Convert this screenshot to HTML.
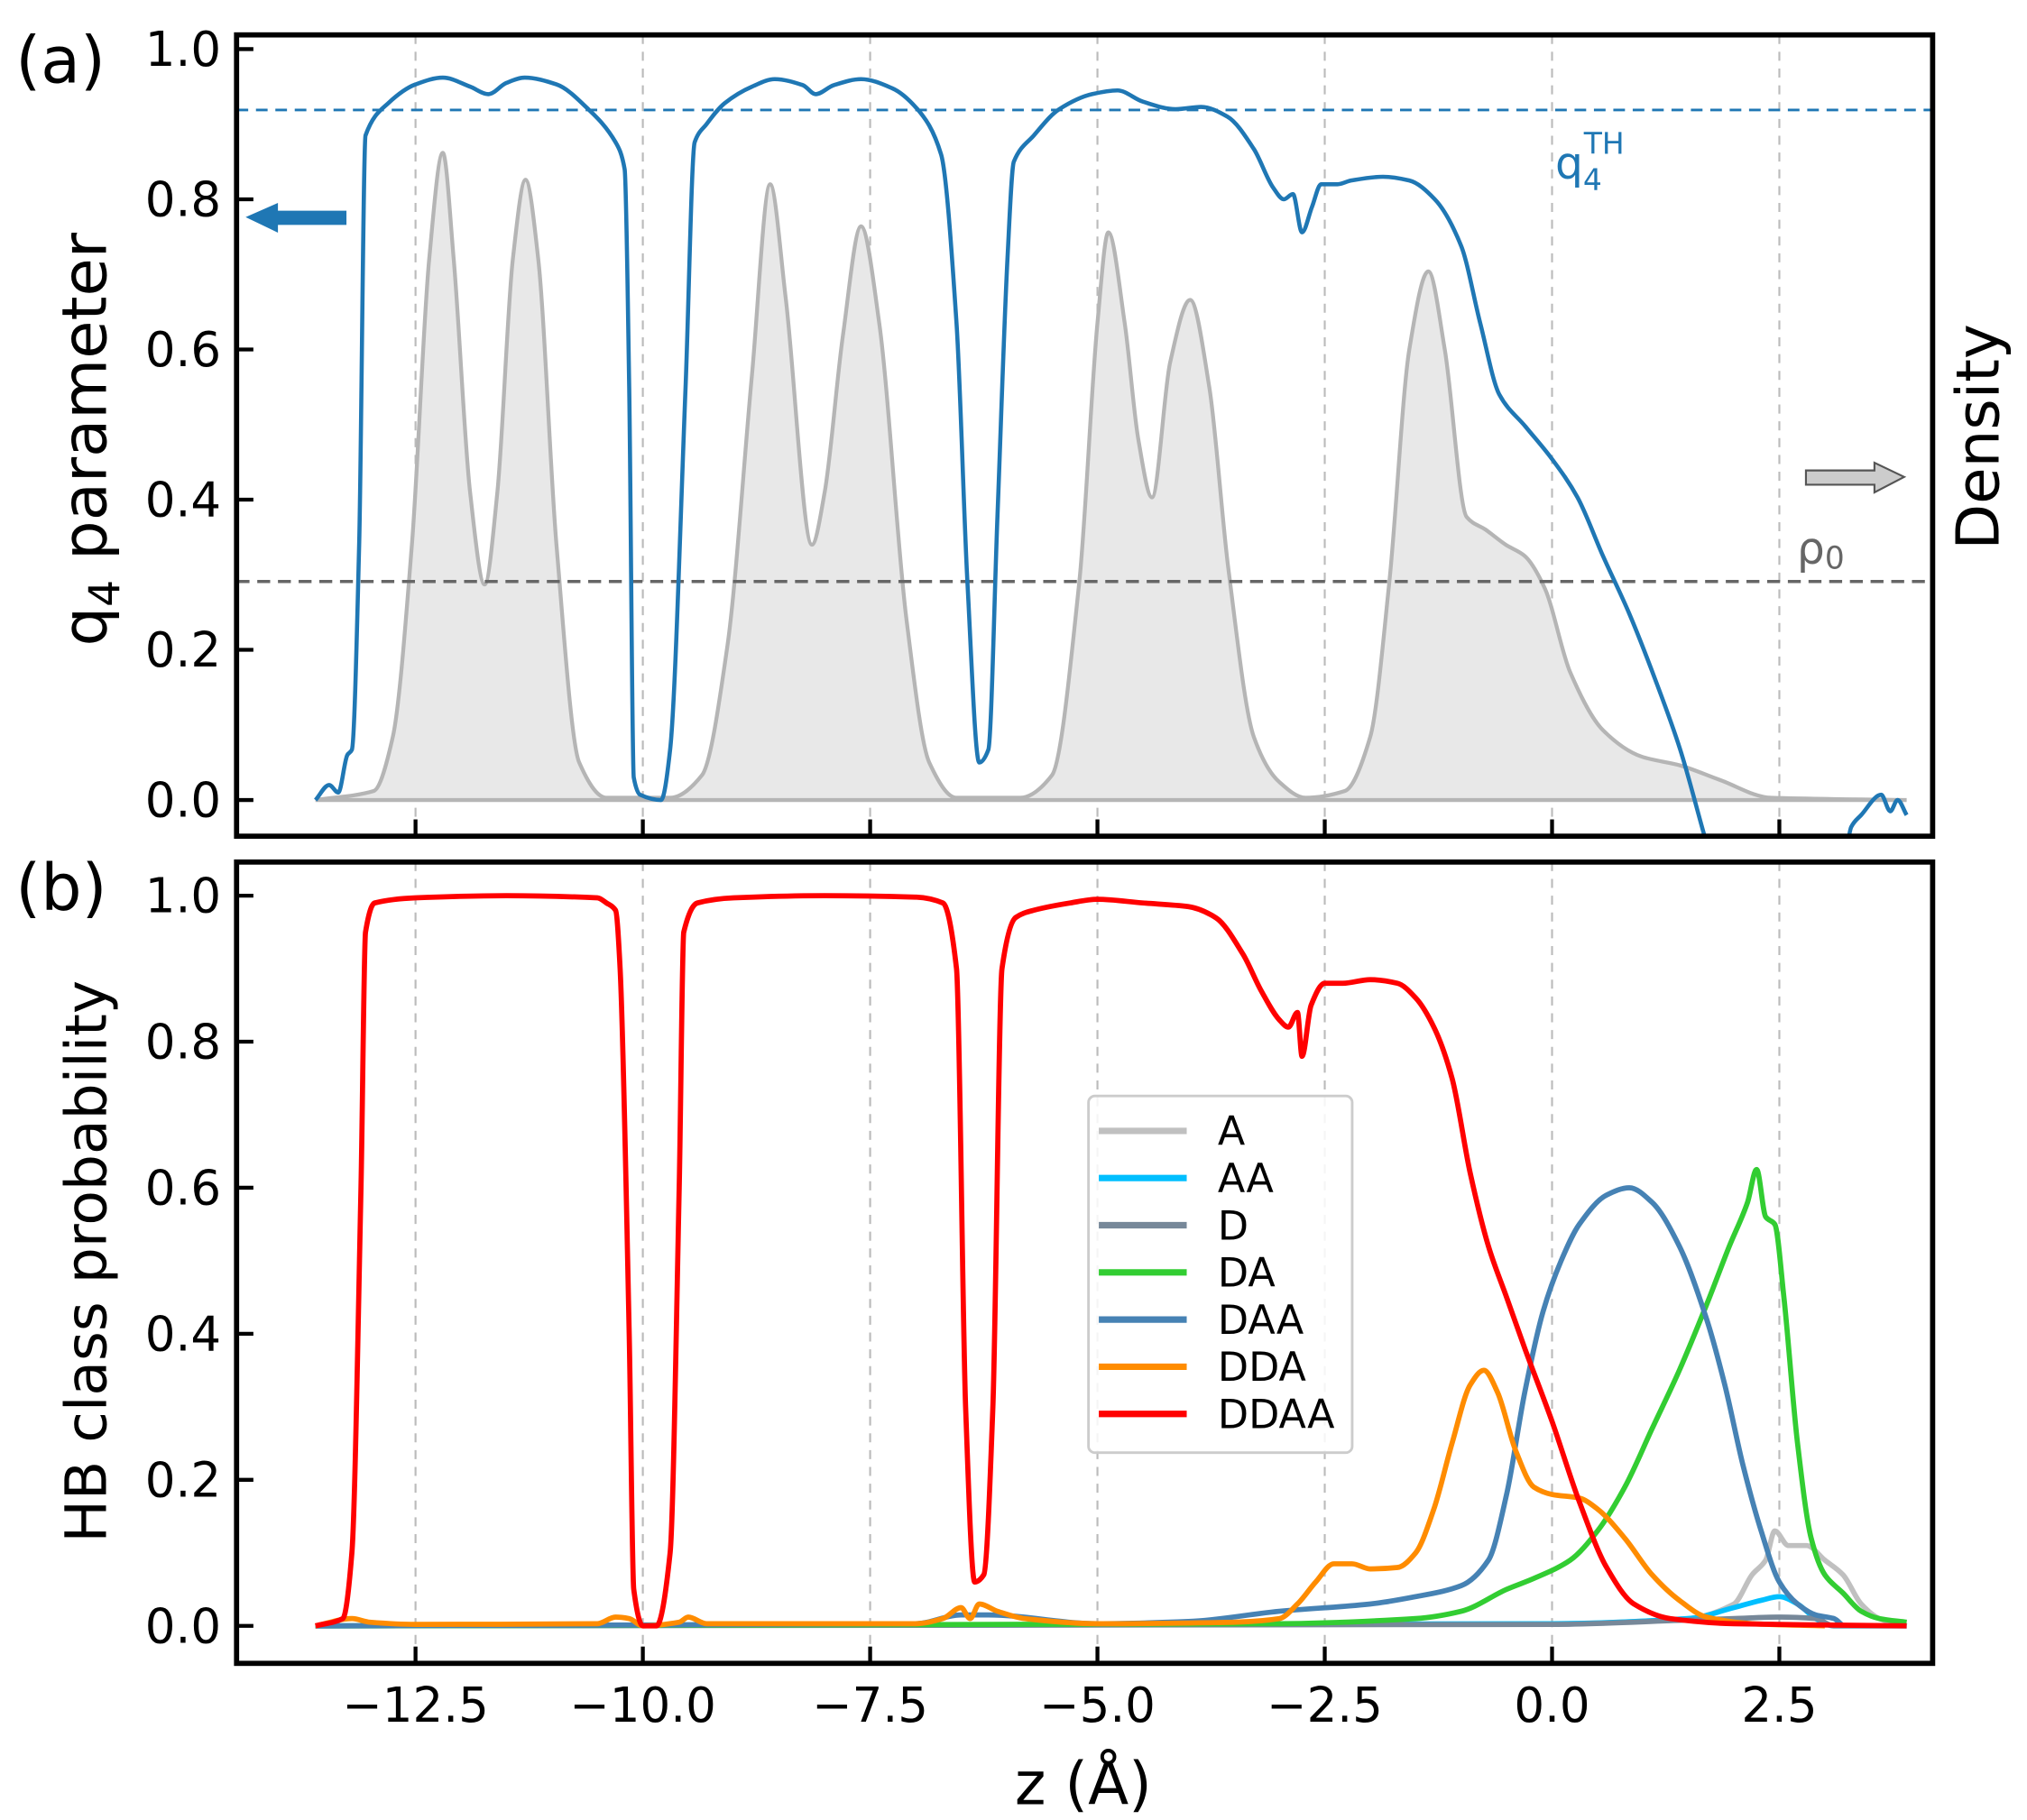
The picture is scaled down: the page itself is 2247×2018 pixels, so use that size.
<!DOCTYPE html>
<html><head><meta charset="utf-8"><style>
html,body{margin:0;padding:0;background:#fff;}
svg{display:block;font-family:"DejaVu Sans","Liberation Sans",sans-serif;}
</style></head><body>
<svg id="fig" width="2247" height="2018" viewBox="0 0 1568 1408.2" xmlns="http://www.w3.org/2000/svg">
<defs>
<clipPath id="clipA"><rect x="183" y="27" width="1312" height="620"/></clipPath>
<clipPath id="clipB"><rect x="183" y="667" width="1312" height="620"/></clipPath>
</defs>
<g id="gridA"></g>
<g id="gridB"></g>
<g id="marksA" clip-path="url(#clipA)"></g>
<g id="marksB" clip-path="url(#clipB)"></g>
<rect x="183" y="27" width="1312" height="620" fill="none" stroke="#000" stroke-width="4"/>
<rect x="183" y="667" width="1312" height="620" fill="none" stroke="#000" stroke-width="4"/>
<g id="ticks"></g>
<text x="12" y="64" font-size="50">(a)</text>
<text x="12" y="704" font-size="50">(b)</text>
<text transform="translate(82,340) rotate(-90)" text-anchor="middle" font-size="48">q<tspan font-size="33" dy="10">4</tspan><tspan dy="-10"> parameter</tspan></text>
<text transform="translate(82,976) rotate(-90)" text-anchor="middle" font-size="44">HB class probability</text>
<text transform="translate(1546,338) rotate(-90)" text-anchor="middle" font-size="46">Density</text>
<text x="838" y="1396" text-anchor="middle" font-size="46">z (Å)</text>
<text x="1203" y="138" font-size="34" fill="#1f77b4">q<tspan font-size="23" dy="9">4</tspan><tspan font-size="23" dx="-14" dy="-28">TH</tspan></text>
<text x="1390" y="436" font-size="34" fill="#666">ρ<tspan font-size="24" dy="4">0</tspan></text>
<polygon points="190,168 215,157 215,163 268,163 268,174 215,174 215,180" fill="#1f77b4"/>
<polygon points="1473,369 1450,358 1450,364 1397,364 1397,375 1450,375 1450,381" fill="#ccc" stroke="#555" stroke-width="1.5"/>
<g id="legend"></g>
</svg>
<script>
const xTicks=[-12.5,-10.0,-7.5,-5.0,-2.5,0.0,2.5];
const yTicks=[0.0,0.2,0.4,0.6,0.8,1.0];
const q4Z=[-13.6,-13.45,-13.35,-13.25,-13.2,-13.12,-13.05,-12.8,-12.5,-12.2,-11.9,-11.7,-11.5,-11.3,-10.95,-10.6,-10.3,-10.2,-10.15,-10.1,-10.03,-9.8,-9.7,-9.53,-9.43,-9.3,-9.1,-8.8,-8.55,-8.24,-8.1,-7.9,-7.6,-7.26,-6.98,-6.72,-6.55,-6.43,-6.3,-6.2,-6.1,-5.99,-5.92,-5.7,-5.42,-5.06,-4.78,-4.5,-4.14,-3.86,-3.57,-3.28,-3.07,-2.95,-2.85,-2.75,-2.64,-2.54,-2.36,-2.21,-1.86,-1.57,-1.29,-1.0,-0.79,-0.58,-0.29,0,0.28,0.56,0.85,1.13,1.41,1.67,2.5,3.2,3.29,3.4,3.62,3.72,3.8,3.9];
const q4V=[0,0.02,0.01,0.06,0.067,0.34,0.885,0.928,0.953,0.962,0.95,0.94,0.955,0.962,0.953,0.92,0.876,0.84,0.55,0.03,0.007,0,0.067,0.55,0.876,0.9,0.928,0.95,0.96,0.952,0.94,0.952,0.96,0.948,0.92,0.86,0.635,0.29,0.05,0.067,0.377,0.72,0.85,0.885,0.92,0.94,0.945,0.93,0.92,0.923,0.91,0.867,0.816,0.8,0.807,0.756,0.79,0.82,0.82,0.825,0.83,0.825,0.8,0.738,0.635,0.54,0.497,0.454,0.403,0.325,0.248,0.162,0.067,-0.045,-0.4,-0.1,-0.036,-0.02,0.007,-0.015,0,-0.02];
const densZ=[-13.6,-12.96,-12.75,-12.54,-12.35,-12.2,-12.08,-11.9,-11.74,-11.6,-11.43,-11.29,-11.15,-10.95,-10.7,-10.4,-9.7,-9.35,-9.07,-8.8,-8.6,-8.43,-8.14,-8.0,-7.8,-7.6,-7.4,-7.1,-6.85,-6.55,-5.85,-5.5,-5.2,-5.0,-4.88,-4.7,-4.55,-4.4,-4.2,-3.98,-3.77,-3.56,-3.28,-3.0,-2.71,-2.28,-2.0,-1.79,-1.57,-1.36,-1.18,-0.94,-0.73,-0.51,-0.3,-0.08,0.2,0.56,0.98,1.41,1.84,2.41,3.9];
const densV=[0,0.012,0.084,0.34,0.72,0.862,0.72,0.41,0.287,0.41,0.72,0.826,0.72,0.34,0.05,0.003,0.003,0.033,0.205,0.566,0.82,0.67,0.34,0.41,0.618,0.764,0.635,0.24,0.05,0.003,0.003,0.033,0.29,0.635,0.756,0.635,0.48,0.403,0.583,0.666,0.55,0.308,0.084,0.024,0.003,0.012,0.084,0.29,0.6,0.704,0.6,0.377,0.36,0.34,0.325,0.282,0.17,0.093,0.058,0.046,0.027,0.003,0];
const q4Threshold=0.919;
const rho0=0.291;
const classNames=["A","AA","D","DA","DAA","DDA","DDAA"];
const classColors=["#c0c0c0","#00bfff","#778899","#32cd32","#4682b4","#ff8c00","#ff0000"];
const aZ=[-13.6,0,1.5,2.0,2.2,2.35,2.45,2.6,2.8,3.0,3.2,3.4,3.6,3.9];
const aV=[0,0.003,0.01,0.03,0.07,0.09,0.13,0.11,0.11,0.09,0.07,0.03,0.01,0];
const aaZ=[-13.6,0,1.5,2.0,2.3,2.5,2.7,2.9,3.1,3.9];
const aaV=[0,0.003,0.01,0.025,0.035,0.04,0.03,0.01,0,0];
const dZ=[-13.6,0,1.5,2,2.5,2.9,3.1,3.9];
const dV=[0,0.002,0.008,0.01,0.012,0.01,0,0];
const daZ=[-13.6,-3,-1.5,-1.0,-0.5,-0.2,0.2,0.5,0.8,1.1,1.4,1.7,1.95,2.15,2.25,2.35,2.45,2.55,2.7,2.85,3.0,3.2,3.4,3.6,3.9];
const daV=[0,0.003,0.01,0.02,0.05,0.065,0.09,0.13,0.19,0.27,0.35,0.44,0.52,0.58,0.625,0.56,0.55,0.45,0.25,0.12,0.07,0.045,0.02,0.01,0.005];
const daaZ=[-13.6,-7,-6.5,-6.2,-5,-4,-3,-2,-1.5,-1.0,-0.7,-0.5,-0.3,-0.1,0.1,0.3,0.6,0.85,1.1,1.4,1.7,1.9,2.1,2.3,2.5,2.7,2.9,3.1,3.2];
const daaV=[0,0.003,0.015,0.015,0.003,0.006,0.02,0.03,0.04,0.055,0.09,0.18,0.32,0.43,0.5,0.55,0.59,0.6,0.58,0.52,0.42,0.33,0.22,0.13,0.06,0.03,0.015,0.01,0];
const ddaZ=[-13.6,-13.2,-13,-12.5,-10.5,-10.3,-10.15,-10,-9.6,-9.5,-9.3,-7,-6.7,-6.5,-6.4,-6.3,-6.1,-5.8,-5,-3.5,-3,-2.8,-2.6,-2.4,-2.2,-2.0,-1.7,-1.5,-1.3,-1.1,-0.9,-0.75,-0.6,-0.4,-0.2,0,0.3,0.5,0.8,1.1,1.4,1.7,2.2,3];
const ddaV=[0,0.01,0.005,0.002,0.003,0.012,0.01,0,0.005,0.012,0.003,0.003,0.01,0.025,0.01,0.03,0.02,0.01,0.003,0.005,0.01,0.03,0.06,0.085,0.085,0.078,0.08,0.1,0.16,0.25,0.33,0.35,0.32,0.24,0.19,0.18,0.175,0.16,0.12,0.07,0.035,0.012,0.003,0];
const ddaaZ=[-13.6,-13.3,-13.2,-13.1,-13.05,-12.95,-12.5,-11.5,-10.5,-10.4,-10.3,-10.25,-10.15,-10.1,-10.0,-9.85,-9.7,-9.6,-9.55,-9.4,-9,-8,-7,-6.7,-6.55,-6.45,-6.35,-6.25,-6.15,-6.05,-5.9,-5.7,-5.3,-5,-4.5,-4,-3.7,-3.4,-3.2,-3.0,-2.9,-2.8,-2.75,-2.65,-2.5,-2.3,-2.0,-1.7,-1.5,-1.3,-1.1,-0.9,-0.7,-0.5,-0.3,0,0.3,0.6,0.9,1.3,2,3.9];
const ddaaV=[0,0.01,0.1,0.6,0.95,0.99,0.997,1.0,0.997,0.99,0.98,0.9,0.4,0.05,0,0,0.1,0.6,0.95,0.99,0.997,1,0.998,0.99,0.9,0.3,0.06,0.07,0.3,0.9,0.97,0.98,0.99,0.995,0.99,0.985,0.97,0.92,0.87,0.83,0.82,0.84,0.78,0.85,0.88,0.88,0.885,0.88,0.86,0.82,0.75,0.62,0.52,0.45,0.38,0.28,0.17,0.08,0.03,0.01,0.003,0];

const NS="http://www.w3.org/2000/svg";
function xs(z){return 1200.6+z*70.333;}
function ysA(v){return 619-v*581;}
function ysB(v){return 1258-v*565;}
function mk(tag,attrs,parent){const e=document.createElementNS(NS,tag);for(const k in attrs)e.setAttribute(k,attrs[k]);parent.appendChild(e);return e;}
function pathD(Z,V,ys){
  const X=Z.map(xs),Y=V.map(ys),n=X.length;
  const d=[],m=new Array(n);
  for(let i=0;i<n-1;i++)d.push((Y[i+1]-Y[i])/(X[i+1]-X[i]));
  m[0]=d[0];m[n-1]=d[n-2];
  for(let i=1;i<n-1;i++){m[i]=(d[i-1]*d[i]<=0)?0:(2/(1/d[i-1]+1/d[i]));}
  let s="M"+X[0].toFixed(2)+","+Y[0].toFixed(2);
  for(let i=0;i<n-1;i++){const h=(X[i+1]-X[i])/3;
    s+="C"+(X[i]+h).toFixed(2)+","+(Y[i]+m[i]*h).toFixed(2)+" "+(X[i+1]-h).toFixed(2)+","+(Y[i+1]-m[i+1]*h).toFixed(2)+" "+X[i+1].toFixed(2)+","+Y[i+1].toFixed(2);}
  return s;
}
const gA=document.getElementById('gridA'),gB=document.getElementById('gridB'),mA=document.getElementById('marksA'),mB=document.getElementById('marksB'),tk=document.getElementById('ticks');
xTicks.forEach(t=>{
  [[gA,27,647],[gB,667,1287]].forEach(([g,y0,y1])=>{
    const l=mk('line',{x1:xs(t),x2:xs(t),y1:y0,y2:y1,stroke:'#bbb','stroke-width':1.5,'stroke-dasharray':'7,6'},g);
    
    
    const tl=mk('line',{x1:xs(t),x2:xs(t),y1:y1-13,y2:y1,stroke:'#000','stroke-width':3},tk);
    
    
  });
  const tx=mk('text',{x:xs(t),y:1332,'text-anchor':'middle','font-size':37},tk);
  tx.textContent=(t<0?"\u2212":"")+Math.abs(t).toFixed(1);
  
  
});
yTicks.forEach(t=>{
  [ysA,ysB].forEach(ys=>{
    const tl=mk('line',{x1:183,x2:196,y1:ys(t),y2:ys(t),stroke:'#000','stroke-width':3},tk);
    
    
    const tx=mk('text',{x:171,y:ys(t)+13,'text-anchor':'end','font-size':37},tk);
    tx.textContent=t.toFixed(1);
    
    
  });
});
const dens=mk('path',{d:pathD(densZ,densV,ysA)+"Z",fill:'#e8e8e8',stroke:'#b5b5b5','stroke-width':3},mA);


const th=mk('line',{x1:183,x2:1495,y1:ysA(q4Threshold),y2:ysA(q4Threshold),stroke:'#1f77b4','stroke-width':2,'stroke-dasharray':'9,6'},mA);


const rl=mk('line',{x1:183,x2:1495,y1:ysA(rho0),y2:ysA(rho0),stroke:'#666','stroke-width':2.5,'stroke-dasharray':'10,6'},mA);


const q4=mk('path',{d:pathD(q4Z,q4V,ysA),fill:'none',stroke:'#1f77b4','stroke-width':3.2,'stroke-linejoin':'round'},mA);


const series=[[aZ,aV],[aaZ,aaV],[dZ,dV],[daZ,daV],[daaZ,daaV],[ddaZ,ddaV],[ddaaZ,ddaaV]];
series.forEach(([Z,V],i)=>{
  const p=mk('path',{d:pathD(Z,V,ysB),fill:'none',stroke:classColors[i],'stroke-width':4,'stroke-linejoin':'round'},mB);
  
  
});
const lg=document.getElementById('legend');
const box=mk('rect',{x:842,y:848,width:204,height:276,rx:5,fill:'#fff','fill-opacity':0.85,stroke:'#ccc','stroke-width':2},lg);


classNames.forEach((n,i)=>{
  const y=875+i*36.5;
  const l=mk('line',{x1:850,x2:918,y1:y,y2:y,stroke:classColors[i],'stroke-width':5},lg);
  
  
  const t=mk('text',{x:942,y:y+11,'font-size':31},lg);
  t.textContent=n;
  
  
});
</script>
</body></html>
